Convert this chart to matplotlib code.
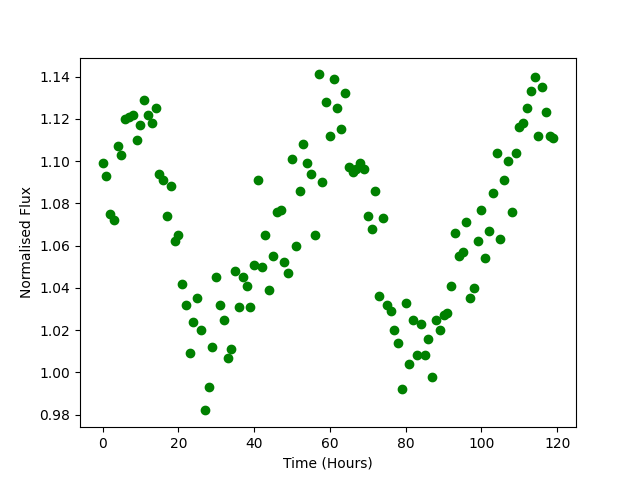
import numpy as np
import matplotlib
matplotlib.use('Agg')
import matplotlib.pyplot as plt

# hourly samples, 0..119
time_hours = np.arange(120)

flux = [
    1.099, 1.093, 1.075, 1.072, 1.107, 1.103, 1.120, 1.121, 1.122, 1.110,
    1.117, 1.129, 1.122, 1.118, 1.125, 1.094, 1.091, 1.074, 1.088, 1.062,
    1.065, 1.042, 1.032, 1.009, 1.024, 1.035, 1.020, 0.982, 0.993, 1.012,
    1.045, 1.032, 1.025, 1.007, 1.011, 1.048, 1.031, 1.045, 1.041, 1.031,
    1.051, 1.091, 1.050, 1.065, 1.039, 1.055, 1.076, 1.077, 1.052, 1.047,
    1.101, 1.060, 1.086, 1.108, 1.099, 1.094, 1.065, 1.141, 1.090, 1.128,
    1.112, 1.139, 1.125, 1.115, 1.132, 1.097, 1.095, 1.096, 1.099, 1.096,
    1.074, 1.068, 1.086, 1.036, 1.073, 1.032, 1.029, 1.020, 1.014, 0.992,
    1.033, 1.004, 1.025, 1.008, 1.023, 1.008, 1.016, 0.998, 1.025, 1.020,
    1.027, 1.028, 1.041, 1.066, 1.055, 1.057, 1.071, 1.035, 1.040, 1.062,
    1.077, 1.054, 1.067, 1.085, 1.104, 1.063, 1.091, 1.100, 1.076, 1.104,
    1.116, 1.118, 1.125, 1.133, 1.140, 1.112, 1.135, 1.123, 1.112, 1.111,
]

plt.figure(figsize=(6.4, 4.8), dpi=100)
plt.plot(time_hours, flux, 'go')
plt.xlabel('Time (Hours)')
plt.ylabel('Normalised Flux')
plt.savefig('out.png')
